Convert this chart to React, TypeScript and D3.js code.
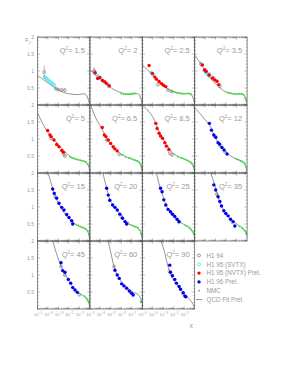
import React from 'react';
import * as d3 from 'd3';

// ---------------- data (x given as log10(x), F2) ----------------
const q2Labels = ['1.5', '2', '2.5', '3.5', '5', '6.5', '8.5', '12', '15', '20', '25', '35', '45', '60', '90'];

const fitCurves: number[][][] = [
  [[-5, 0.86], [-4.5, 0.76], [-4, 0.65], [-3.5, 0.54], [-3, 0.44], [-2.5, 0.37], [-2, 0.33], [-1.5, 0.31], [-1, 0.31], [-0.6, 0.33], [-0.4, 0.31], [-0.2, 0.2], [0, 0.01]],
  [[-5, 1.03], [-4.5, 0.9], [-4, 0.76], [-3.5, 0.63], [-3, 0.51], [-2.5, 0.42], [-2, 0.36], [-1.5, 0.32], [-1, 0.32], [-0.6, 0.34], [-0.35, 0.32], [-0.15, 0.2], [0, 0.02]],
  [[-5, 1.18], [-4.5, 1.03], [-4, 0.88], [-3.5, 0.71], [-3, 0.57], [-2.5, 0.46], [-2, 0.39], [-1.5, 0.35], [-1, 0.33], [-0.6, 0.34], [-0.35, 0.32], [-0.15, 0.2], [0, 0.02]],
  [[-5, 1.47], [-4.5, 1.25], [-4, 1.0], [-3.5, 0.79], [-3, 0.62], [-2.5, 0.48], [-2, 0.38], [-1.5, 0.34], [-1, 0.32], [-0.6, 0.33], [-0.35, 0.31], [-0.15, 0.2], [0, 0.02]],
  [[-5, 1.78], [-4.5, 1.45], [-4, 1.2], [-3.5, 1.02], [-3, 0.84], [-2.5, 0.66], [-2, 0.52], [-1.5, 0.43], [-1, 0.38], [-0.6, 0.35], [-0.3, 0.3], [-0.1, 0.18], [0, 0.03]],
  [[-5, 2.1], [-4.87, 1.95], [-4.35, 1.56], [-3.87, 1.31], [-3.4, 1.02], [-2.78, 0.77], [-2.14, 0.58], [-1.6, 0.48], [-1.18, 0.43], [-0.6, 0.36], [-0.25, 0.31], [-0.1, 0.18], [0, 0.02]],
  [[-5, 2.0], [-4.5, 1.85], [-4, 1.65], [-3.7, 1.45], [-3.4, 1.22], [-3.0, 1.0], [-2.54, 0.77], [-2.06, 0.58], [-1.42, 0.46], [-0.78, 0.38], [-0.31, 0.28], [-0.1, 0.15], [0, 0.02]],
  [[-5, 1.92], [-4.5, 1.75], [-4, 1.56], [-3.6, 1.42], [-3.2, 1.15], [-2.77, 0.89], [-2.3, 0.7], [-1.65, 0.52], [-1.02, 0.41], [-0.38, 0.33], [-0.15, 0.22], [0, 0.02]],
  [[-4.1, 2.15], [-3.97, 1.99], [-3.65, 1.65], [-3.33, 1.32], [-2.85, 1.03], [-2.38, 0.79], [-1.74, 0.58], [-1.11, 0.45], [-0.47, 0.37], [-0.2, 0.27], [0, 0.06]],
  [[-3.9, 2.15], [-3.6, 1.8], [-3.4, 1.56], [-3.1, 1.22], [-2.8, 1.05], [-2.4, 0.9], [-2.0, 0.74], [-1.5, 0.54], [-1.0, 0.46], [-0.5, 0.4], [-0.25, 0.32], [-0.05, 0.15], [0, 0.1]],
  [[-3.8, 2.15], [-3.65, 1.99], [-3.33, 1.6], [-3.01, 1.3], [-2.69, 1.03], [-2.21, 0.8], [-1.74, 0.64], [-1.1, 0.5], [-0.47, 0.38], [-0.2, 0.27], [0, 0.15]],
  [[-3.55, 2.15], [-3.4, 1.94], [-3.08, 1.65], [-2.77, 1.3], [-2.44, 1.02], [-1.97, 0.78], [-1.49, 0.62], [-0.85, 0.47], [-0.38, 0.37], [-0.15, 0.26], [0, 0.15]],
  [[-3.6, 2.1], [-3.45, 1.9], [-3.1, 1.55], [-2.8, 1.3], [-2.5, 1.1], [-2.1, 0.88], [-1.7, 0.68], [-1.3, 0.53], [-0.9, 0.44], [-0.47, 0.36], [-0.2, 0.24], [0, 0.08]],
  [[-3.35, 2.15], [-3.24, 1.98], [-2.92, 1.54], [-2.61, 1.15], [-2.14, 0.86], [-1.66, 0.68], [-1.02, 0.52], [-0.38, 0.42], [-0.15, 0.3], [0, 0.17]],
  [[-3.3, 2.15], [-3.17, 1.98], [-2.85, 1.64], [-2.54, 1.24], [-2.22, 0.96], [-1.74, 0.73], [-1.26, 0.54], [-0.78, 0.38], [-0.31, 0.22], [-0.03, 0.06]],
];

// [log10x, F2, error]
const h194Points: number[][][] = [
  [[-4.36, 0.97, 0.2], [-3.25, 0.48, 0.04], [-3.0, 0.45, 0.04], [-2.7, 0.44, 0.04], [-2.4, 0.44, 0.04]],
  [[-4.6, 1.0, 0.12], [-3.2, 0.55, 0.04]],
  [[-3.5, 0.6, 0.04], [-2.54, 0.44, 0.04], [-2.2, 0.4, 0.04]],
  [[-4.4, 1.2, 0.08], [-4.0, 1.0, 0.06], [-3.6, 0.9, 0.05], [-3.2, 0.8, 0.05], [-2.6, 0.55, 0.04]],
  [[-3.7, 1.02, 0.04], [-2.5, 0.55, 0.03], [-2.37, 0.5, 0.03]],
  [[-3.4, 0.97, 0.04], [-2.2, 0.55, 0.03]],
  [[-2.38, 0.58, 0.03], [-2.17, 0.53, 0.03]],
  [[-3.1, 1.08, 0.04], [-2.6, 0.82, 0.03], [-2.1, 0.62, 0.03]],
  [[-3.3, 1.3, 0.04], [-1.7, 0.55, 0.03]],
  [[-2.0, 0.72, 0.03], [-1.4, 0.52, 0.03]],
  [[-2.1, 0.78, 0.03], [-1.5, 0.55, 0.03]],
  [[-2.9, 1.38, 0.04], [-1.4, 0.55, 0.03]],
  [[-2.76, 1.25, 0.04], [-2.4, 1.0, 0.04], [-1.0, 0.42, 0.03]],
  [[-2.7, 1.25, 0.04], [-1.1, 0.5, 0.03]],
  [[-2.4, 1.1, 0.04], [-1.1, 0.45, 0.03]],
];

const svtxPoints: number[][][] = [
  [[-4.3, 0.82, 0.05], [-4.15, 0.78, 0.04], [-4.0, 0.74, 0.04], [-3.85, 0.7, 0.04], [-3.7, 0.66, 0.04], [-3.55, 0.62, 0.04], [-3.4, 0.58, 0.04]],
  [[-4.55, 0.98, 0.1], [-4.4, 0.9, 0.06], [-4.2, 0.84, 0.05], [-4.0, 0.78, 0.04], [-3.8, 0.72, 0.04], [-3.6, 0.68, 0.04]],
  [[-4.15, 0.95, 0.05], [-4.0, 0.9, 0.04], [-3.85, 0.85, 0.04]],
  [[-4.1, 1.02, 0.05], [-3.95, 0.97, 0.05], [-3.8, 0.92, 0.04], [-3.65, 0.86, 0.04], [-3.5, 0.84, 0.04]],
  [], [], [], [], [], [], [], [], [], [], [],
];

const nvtxPoints: number[][][] = [
  [],
  [[-4.5, 0.95, 0.04], [-4.26, 0.78, 0.03], [-4.05, 0.81, 0.03], [-3.8, 0.72, 0.03], [-3.57, 0.68, 0.03], [-3.4, 0.63, 0.03], [-3.15, 0.57, 0.03]],
  [[-4.35, 1.16, 0.04], [-4.03, 0.93, 0.03], [-3.8, 0.82, 0.03], [-3.65, 0.76, 0.03], [-3.4, 0.69, 0.03], [-3.17, 0.63, 0.03], [-2.98, 0.58, 0.03], [-2.76, 0.54, 0.03]],
  [[-4.26, 1.18, 0.04], [-4.04, 1.04, 0.03], [-3.9, 0.99, 0.03], [-3.63, 0.88, 0.03], [-3.3, 0.79, 0.03], [-3.08, 0.74, 0.03], [-2.87, 0.7, 0.03], [-2.7, 0.6, 0.03]],
  [[-4.03, 1.25, 0.03], [-3.81, 1.12, 0.03], [-3.7, 1.07, 0.03], [-3.43, 0.97, 0.03], [-3.17, 0.84, 0.03], [-2.95, 0.77, 0.03], [-2.69, 0.66, 0.03], [-2.53, 0.61, 0.03]],
  [[-3.82, 1.34, 0.03], [-3.62, 1.12, 0.03], [-3.47, 1.07, 0.03], [-3.24, 0.97, 0.03], [-3.02, 0.87, 0.03], [-2.78, 0.77, 0.03], [-2.62, 0.71, 0.03], [-2.4, 0.65, 0.03]],
  [[-3.71, 1.46, 0.03], [-3.59, 1.31, 0.03], [-3.4, 1.17, 0.03], [-3.26, 1.09, 0.03], [-3.07, 1.02, 0.03], [-2.85, 0.89, 0.03], [-2.7, 0.79, 0.03], [-2.47, 0.69, 0.03]],
  [], [], [], [], [], [], [], [],
];

const h196Points: number[][][] = [
  [], [], [], [], [], [], [],
  [[-3.6, 1.46, 0.03], [-3.4, 1.26, 0.03], [-3.18, 1.12, 0.03], [-2.99, 1.05, 0.03], [-2.77, 0.89, 0.03], [-2.62, 0.85, 0.03], [-2.4, 0.75, 0.03], [-2.2, 0.68, 0.03], [-1.91, 0.56, 0.03]],
  [[-3.55, 1.53, 0.03], [-3.4, 1.4, 0.03], [-3.17, 1.26, 0.03], [-2.95, 1.11, 0.03], [-2.69, 0.99, 0.03], [-2.47, 0.91, 0.03], [-2.21, 0.78, 0.03], [-1.99, 0.69, 0.03], [-1.74, 0.6, 0.03], [-1.64, 0.5, 0.03]],
  [[-3.4, 1.55, 0.03], [-3.25, 1.35, 0.03], [-3.1, 1.2, 0.03], [-2.83, 1.06, 0.03], [-2.61, 0.99, 0.03], [-2.39, 0.91, 0.03], [-2.14, 0.79, 0.03], [-1.89, 0.67, 0.03], [-1.65, 0.57, 0.03], [-1.5, 0.5, 0.03]],
  [[-3.26, 1.55, 0.03], [-3.11, 1.45, 0.03], [-2.95, 1.21, 0.03], [-2.76, 1.06, 0.03], [-2.54, 0.93, 0.03], [-2.31, 0.86, 0.03], [-2.12, 0.79, 0.03], [-1.9, 0.72, 0.03], [-1.68, 0.64, 0.03], [-1.49, 0.57, 0.03]],
  [[-3.18, 1.65, 0.03], [-3.0, 1.5, 0.03], [-2.77, 1.3, 0.03], [-2.6, 1.16, 0.03], [-2.44, 1.03, 0.03], [-2.22, 0.89, 0.03], [-2.03, 0.81, 0.03], [-1.81, 0.74, 0.03], [-1.58, 0.64, 0.03], [-1.33, 0.57, 0.03], [-1.17, 0.44, 0.03]],
  [[-2.76, 1.36, 0.04], [-2.6, 1.13, 0.03], [-2.38, 1.08, 0.03], [-2.06, 0.87, 0.03], [-1.83, 0.76, 0.03], [-1.64, 0.63, 0.03], [-1.42, 0.56, 0.03], [-1.2, 0.49, 0.03]],
  [[-2.61, 1.14, 0.03], [-2.39, 1.0, 0.03], [-2.2, 0.9, 0.03], [-1.97, 0.74, 0.03], [-1.75, 0.68, 0.03], [-1.49, 0.61, 0.03], [-1.24, 0.53, 0.03], [-1.02, 0.46, 0.03], [-0.87, 0.41, 0.03]],
  [[-2.38, 1.29, 0.04], [-2.31, 1.08, 0.03], [-2.12, 0.98, 0.03], [-1.9, 0.87, 0.03], [-1.74, 0.76, 0.03], [-1.49, 0.66, 0.03], [-1.35, 0.58, 0.03], [-1.1, 0.48, 0.03], [-0.94, 0.38, 0.03], [-0.85, 0.36, 0.03]],
];

const nmcPoints: number[][][] = [
  [],
  [[-2.0, 0.33], [-1.8, 0.32], [-1.6, 0.32], [-1.4, 0.32], [-1.25, 0.32], [-1.1, 0.33], [-0.95, 0.33], [-0.8, 0.34], [-0.7, 0.34]],
  [[-2.1, 0.4], [-1.9, 0.38], [-1.7, 0.36], [-1.5, 0.35], [-1.3, 0.34], [-1.1, 0.33], [-0.9, 0.33], [-0.7, 0.34], [-0.5, 0.33], [-0.35, 0.31]],
  [[-1.9, 0.37], [-1.7, 0.35], [-1.5, 0.34], [-1.3, 0.33], [-1.1, 0.32], [-0.9, 0.32], [-0.7, 0.33], [-0.5, 0.32], [-0.35, 0.3], [-0.2, 0.22], [-0.1, 0.15]],
  [[-1.9, 0.47], [-1.7, 0.44], [-1.5, 0.42], [-1.3, 0.4], [-1.1, 0.39], [-0.9, 0.37], [-0.7, 0.36], [-0.5, 0.34], [-0.35, 0.32], [-0.2, 0.26]],
  [[-1.9, 0.53], [-1.6, 0.48], [-1.3, 0.45], [-1.1, 0.43], [-0.9, 0.4], [-0.7, 0.38], [-0.5, 0.36], [-0.35, 0.33], [-0.2, 0.27], [-0.1, 0.2]],
  [[-1.6, 0.48], [-1.3, 0.45], [-1.1, 0.43], [-0.9, 0.4], [-0.7, 0.37], [-0.5, 0.34], [-0.35, 0.31], [-0.2, 0.26], [-0.1, 0.2]],
  [[-1.0, 0.41], [-0.8, 0.38], [-0.6, 0.35], [-0.45, 0.33], [-0.3, 0.3], [-0.2, 0.25], [-0.1, 0.18]],
  [[-1.3, 0.48], [-1.1, 0.45], [-0.9, 0.42], [-0.7, 0.39], [-0.5, 0.37], [-0.35, 0.34], [-0.2, 0.29], [-0.1, 0.22], [-0.03, 0.14]],
  [[-1.0, 0.46], [-0.8, 0.43], [-0.6, 0.41], [-0.4, 0.38], [-0.25, 0.32], [-0.12, 0.22], [-0.04, 0.15]],
  [[-0.9, 0.46], [-0.7, 0.43], [-0.5, 0.39], [-0.35, 0.34], [-0.2, 0.28], [-0.1, 0.22], [-0.03, 0.17]],
  [[-0.7, 0.43], [-0.5, 0.39], [-0.35, 0.35], [-0.2, 0.29], [-0.1, 0.24], [-0.03, 0.19]],
  [[-0.55, 0.38], [-0.4, 0.34], [-0.3, 0.3], [-0.2, 0.25], [-0.1, 0.2]],
  [[-0.15, 0.22], [-0.1, 0.2]],
  [],
];

const xTickExps = [-5, -4, -3, -2, -1];
const yTickLabels = ['0.5', '1', '1.5', '2'];
const legendLabels = ['H1 94', 'H1 95 (SVTX)', 'H1 95 (NVTX) Prel.', 'H1 96 Prel.', 'NMC', 'QCD Fit Prel.'];

// ---------------- layout ----------------
const W = 287;
const H = 371;
const gridLeft = 37.5;
const gridTop = 37;
const cellW = 52.4;
const cellH = 68;
const FONT = 'Liberation Sans, Arial, Helvetica, sans-serif';
const TXT = '#9a9a9a';
const FRAME = '#555';

const COL_H194 = '#777';
const COL_SVTX = '#33e0f0';
const COL_NVTX = '#ff0000';
const COL_H196 = '#0000f0';
const COL_NMC = '#44dd44';
const COL_FIT = '#666';

function Panel({ i }: { i: number }) {
  const c = i % 4;
  const r = Math.floor(i / 4);
  const L = gridLeft + c * cellW;
  const T = gridTop + r * cellH;
  const R = L + cellW;
  const B = T + cellH;
  const x = d3.scaleLog().domain([1e-5, 1]).range([L, R]);
  const y = d3.scaleLinear().domain([0, 2]).range([B, T]);
  const px = (lx: number) => x(Math.pow(10, lx));
  const line = d3
    .line<number[]>()
    .x((d) => px(d[0]))
    .y((d) => y(d[1]))
    .curve(d3.curveCatmullRom.alpha(0.5));
  const clipId = `clip${i}`;

  const yMinor = d3.range(0, 2.0001, 0.1);
  const xMinor: number[] = [];
  for (let e = -5; e < 0; e++) for (let k = 1; k < 10; k++) xMinor.push(k * Math.pow(10, e));

  const errBar = (d: number[], col: string, key: string) =>
    d[2] ? (
      <line key={key} x1={px(d[0])} x2={px(d[0])} y1={y(d[1] - d[2])} y2={y(d[1] + d[2])} stroke={col} strokeWidth={0.5} />
    ) : null;

  return (
    <g>
      <defs>
        <clipPath id={clipId}>
          <rect x={L} y={T} width={cellW} height={cellH} />
        </clipPath>
      </defs>
      <g clipPath={`url(#${clipId})`}>
        <path d={line(fitCurves[i]) || ''} fill="none" stroke={COL_FIT} strokeWidth={0.7} />
        {nmcPoints[i].map((d, k) => (
          <g key={`n${k}`}>
            <line x1={px(d[0]) - 1} x2={px(d[0]) + 1} y1={y(d[1])} y2={y(d[1])} stroke={COL_NMC} strokeWidth={0.9} />
            <line x1={px(d[0])} x2={px(d[0])} y1={y(d[1]) - 1} y2={y(d[1]) + 1} stroke={COL_NMC} strokeWidth={0.9} />
          </g>
        ))}
        {svtxPoints[i].map((d, k) => (
          <g key={`s${k}`}>
            {errBar(d, COL_SVTX, 'e')}
            <circle cx={px(d[0])} cy={y(d[1])} r={1.5} fill="none" stroke={COL_SVTX} strokeWidth={0.7} />
          </g>
        ))}
        {h194Points[i].map((d, k) => (
          <g key={`h${k}`}>
            {errBar(d, COL_H194, 'e')}
            <circle cx={px(d[0])} cy={y(d[1])} r={1.5} fill="none" stroke={COL_H194} strokeWidth={0.6} />
          </g>
        ))}
        {nvtxPoints[i].map((d, k) => (
          <g key={`r${k}`}>
            {errBar(d, '#999', 'e')}
            <circle cx={px(d[0])} cy={y(d[1])} r={1.7} fill={COL_NVTX} />
          </g>
        ))}
        {h196Points[i].map((d, k) => (
          <g key={`b${k}`}>
            {errBar(d, '#999', 'e')}
            <circle cx={px(d[0])} cy={y(d[1])} r={1.7} fill={COL_H196} />
          </g>
        ))}
      </g>
      {yMinor.map((v, k) => {
        const major = Math.abs(v * 2 - Math.round(v * 2)) < 1e-6;
        const len = major ? 2.6 : 1.3;
        return (
          <g key={`yt${k}`}>
            <line x1={L} x2={L + len} y1={y(v)} y2={y(v)} stroke={FRAME} strokeWidth={0.4} />
            <line x1={R - len} x2={R} y1={y(v)} y2={y(v)} stroke={FRAME} strokeWidth={0.4} />
          </g>
        );
      })}
      {xMinor.map((v, k) => {
        const major = k % 9 === 0;
        const len = major ? 2.6 : 1.3;
        return (
          <g key={`xt${k}`}>
            <line x1={x(v)} x2={x(v)} y1={B} y2={B - len} stroke={FRAME} strokeWidth={0.4} />
            <line x1={x(v)} x2={x(v)} y1={T} y2={T + len} stroke={FRAME} strokeWidth={0.4} />
          </g>
        );
      })}
      <rect x={L} y={T} width={cellW} height={cellH} fill="none" stroke={FRAME} strokeWidth={0.7} />
      <text x={R - 5} y={T + 15.5} fontSize={7.5} fill={TXT} textAnchor="end" fontFamily={FONT}>
        Q<tspan fontSize={4.5} dy={-3}>2</tspan>
        <tspan dy={3}>= {q2Labels[i]}</tspan>
      </text>
      {c === 0 &&
        yTickLabels.map((t) => (
          <text key={t} x={34} y={y(+t) + 1.8} fontSize={5} fill={TXT} textAnchor="end" fontFamily={FONT}>
            {t}
          </text>
        ))}
      {r === 3 &&
        xTickExps.map((e) => (
          <text key={e} x={x(Math.pow(10, e)) + 0.5} y={B + 7} fontSize={4.3} fill={TXT} textAnchor="middle" fontFamily={FONT}>
            10<tspan fontSize={3.2} dy={-2}>{`−${-e}`}</tspan>
          </text>
        ))}
    </g>
  );
}

function Legend() {
  const lx = 199;
  const tx = 206.5;
  const y0 = 255.5;
  const dy = 8.8;
  return (
    <g fontFamily={FONT}>
      {legendLabels.map((t, k) => {
        const yy = y0 + k * dy;
        let marker: React.ReactNode = null;
        if (k === 0) marker = <circle cx={lx} cy={yy} r={1.5} fill="none" stroke={COL_H194} strokeWidth={0.7} />;
        if (k === 1) marker = <circle cx={lx} cy={yy} r={1.5} fill="none" stroke={COL_SVTX} strokeWidth={0.7} />;
        if (k === 2) marker = <circle cx={lx} cy={yy} r={1.7} fill={COL_NVTX} />;
        if (k === 3) marker = <circle cx={lx} cy={yy} r={1.7} fill={COL_H196} />;
        if (k === 4)
          marker = (
            <g>
              <line x1={lx - 1} x2={lx + 1} y1={yy} y2={yy} stroke={COL_NMC} strokeWidth={0.9} />
              <line x1={lx} x2={lx} y1={yy - 1} y2={yy + 1} stroke={COL_NMC} strokeWidth={0.9} />
            </g>
          );
        if (k === 5) marker = <line x1={lx - 3} x2={lx + 3} y1={yy} y2={yy} stroke={COL_FIT} strokeWidth={0.7} />;
        return (
          <g key={t}>
            {marker}
            <text x={tx} y={yy + 2.2} fontSize={6.3} fill={TXT}>
              {t}
            </text>
          </g>
        );
      })}
    </g>
  );
}

export default function App() {
  return (
    <svg width={W} height={H} style={{ position: 'absolute', left: 0, top: 0, background: '#fff' }}>
      <rect x={0} y={0} width={W} height={H} fill="#fff" />
      {q2Labels.map((_, i) => (
        <Panel key={i} i={i} />
      ))}
      <Legend />
      <text x={25} y={42} fontSize={6} fill={TXT} fontFamily={FONT}>
        F<tspan fontSize={4} dy={1.5}>2</tspan>
      </text>
      <text x={189.5} y={328} fontSize={7} fill={TXT} fontFamily={FONT}>
        x
      </text>
    </svg>
  );
}
